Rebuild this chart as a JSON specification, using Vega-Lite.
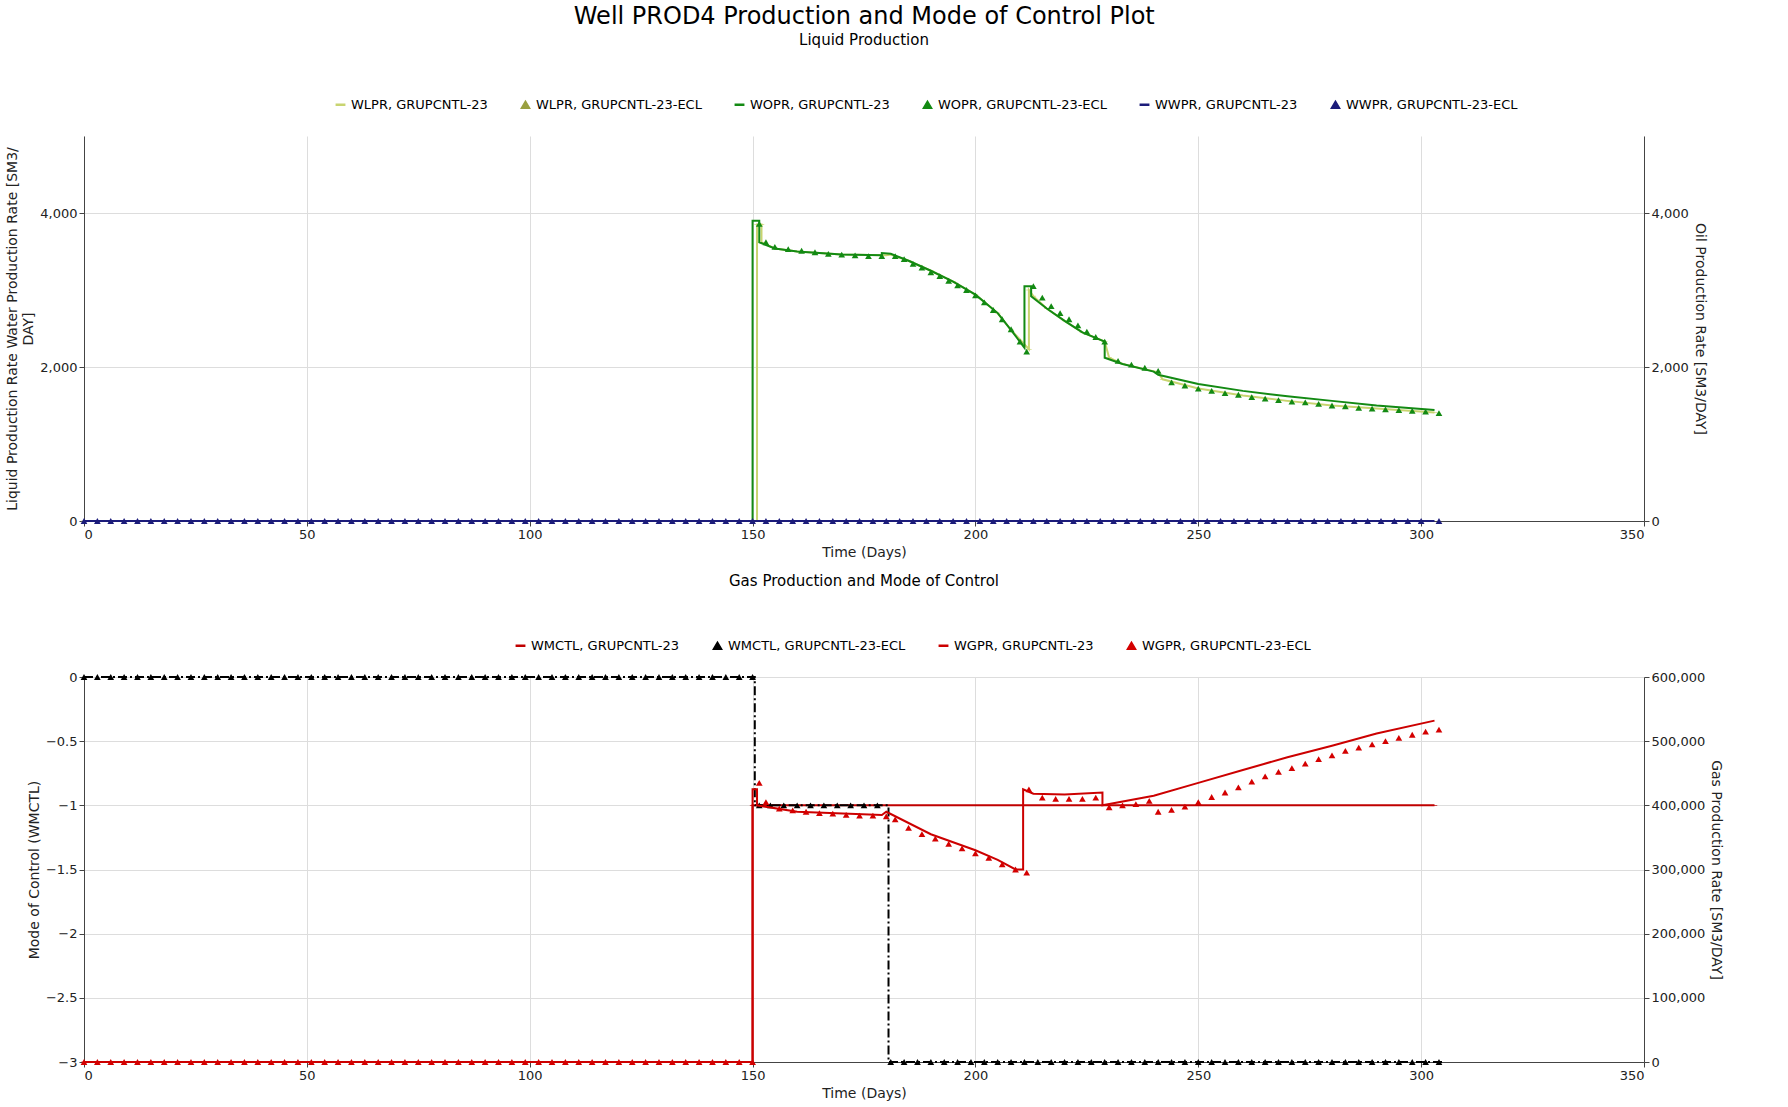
{
"$schema":"https://vega.github.io/schema/vega-lite/v6.json",
"config":{"font":"DejaVu Sans","view":{"stroke":null},"axis":{"labelFontSize":13,"titleFontSize":14,"titleFontWeight":"normal","domainColor":"#444","tickColor":"#444","gridColor":"#dddddd","labelColor":"#222","titleColor":"#222"},"legend":{"labelFontSize":13,"title":null,"symbolSize":70,"columnPadding":30,"labelLimit":400},"title":{"fontWeight":"normal"}},
"title":{"text":"Well PROD4 Production and Mode of Control Plot","fontSize":24,"anchor":"middle"},
"datasets":{
"wopr":[{"x":0,"y":0},{"x":150,"y":0},{"x":150,"y":3900},{"x":151.5,"y":3900},{"x":151.5,"y":3620},{"x":155,"y":3540},{"x":160,"y":3500},{"x":170,"y":3460},{"x":179,"y":3450},{"x":179,"y":3480},{"x":181,"y":3470},{"x":185,"y":3380},{"x":190,"y":3250},{"x":195,"y":3110},{"x":200,"y":2940},{"x":205,"y":2700},{"x":208,"y":2480},{"x":211,"y":2250},{"x":211,"y":3050},{"x":212.5,"y":3050},{"x":212.5,"y":2920},{"x":216,"y":2760},{"x":220,"y":2600},{"x":224,"y":2450},{"x":229,"y":2330},{"x":229,"y":2120},{"x":233,"y":2040},{"x":240,"y":1940},{"x":241,"y":1900},{"x":250,"y":1780},{"x":260,"y":1690},{"x":270,"y":1620},{"x":280,"y":1560},{"x":290,"y":1500},{"x":303,"y":1440}],
"wlpr":[{"x":0,"y":0},{"x":151,"y":0},{"x":151,"y":3850},{"x":152,"y":3850},{"x":152,"y":3620},{"x":155,"y":3540},{"x":160,"y":3500},{"x":170,"y":3460},{"x":180,"y":3450},{"x":181,"y":3460},{"x":185,"y":3380},{"x":190,"y":3250},{"x":195,"y":3110},{"x":200,"y":2940},{"x":205,"y":2700},{"x":208,"y":2480},{"x":212,"y":2230},{"x":212,"y":3000},{"x":213,"y":2920},{"x":216,"y":2760},{"x":220,"y":2600},{"x":224,"y":2450},{"x":229,"y":2330},{"x":230,"y":2120},{"x":233,"y":2040},{"x":241,"y":1930},{"x":242,"y":1840},{"x":250,"y":1720},{"x":260,"y":1630},{"x":270,"y":1560},{"x":280,"y":1500},{"x":290,"y":1460},{"x":303,"y":1410}],
"woprm":[{"x":151.5,"y":3860},{"x":153,"y":3620},{"x":155,"y":3560},{"x":158,"y":3530},{"x":161,"y":3510},{"x":164,"y":3490},{"x":167,"y":3470},{"x":170,"y":3460},{"x":173,"y":3450},{"x":176,"y":3440},{"x":179,"y":3440},{"x":182,"y":3440},{"x":184,"y":3400},{"x":186,"y":3340},{"x":188,"y":3290},{"x":190,"y":3230},{"x":192,"y":3180},{"x":194,"y":3120},{"x":196,"y":3060},{"x":198,"y":3000},{"x":200,"y":2930},{"x":202,"y":2840},{"x":204,"y":2740},{"x":206,"y":2620},{"x":208,"y":2490},{"x":210,"y":2330},{"x":211.5,"y":2200},{"x":213,"y":3050},{"x":215,"y":2900},{"x":217,"y":2790},{"x":219,"y":2700},{"x":221,"y":2620},{"x":223,"y":2540},{"x":225,"y":2460},{"x":227,"y":2390},{"x":229,"y":2330},{"x":232,"y":2080},{"x":235,"y":2030},{"x":238,"y":1990},{"x":241,"y":1950},{"x":244,"y":1800},{"x":247,"y":1760},{"x":250,"y":1720},{"x":253,"y":1690},{"x":256,"y":1660},{"x":259,"y":1640},{"x":262,"y":1610},{"x":265,"y":1590},{"x":268,"y":1570},{"x":271,"y":1550},{"x":274,"y":1540},{"x":277,"y":1520},{"x":280,"y":1500},{"x":283,"y":1490},{"x":286,"y":1470},{"x":289,"y":1460},{"x":292,"y":1450},{"x":295,"y":1440},{"x":298,"y":1430},{"x":301,"y":1420},{"x":304,"y":1400}],
"wwpr":[{"x":0,"y":0},{"x":303,"y":0}],
"wwprm":[{"x":0,"y":0},{"x":3,"y":0},{"x":6,"y":0},{"x":9,"y":0},{"x":12,"y":0},{"x":15,"y":0},{"x":18,"y":0},{"x":21,"y":0},{"x":24,"y":0},{"x":27,"y":0},{"x":30,"y":0},{"x":33,"y":0},{"x":36,"y":0},{"x":39,"y":0},{"x":42,"y":0},{"x":45,"y":0},{"x":48,"y":0},{"x":51,"y":0},{"x":54,"y":0},{"x":57,"y":0},{"x":60,"y":0},{"x":63,"y":0},{"x":66,"y":0},{"x":69,"y":0},{"x":72,"y":0},{"x":75,"y":0},{"x":78,"y":0},{"x":81,"y":0},{"x":84,"y":0},{"x":87,"y":0},{"x":90,"y":0},{"x":93,"y":0},{"x":96,"y":0},{"x":99,"y":0},{"x":102,"y":0},{"x":105,"y":0},{"x":108,"y":0},{"x":111,"y":0},{"x":114,"y":0},{"x":117,"y":0},{"x":120,"y":0},{"x":123,"y":0},{"x":126,"y":0},{"x":129,"y":0},{"x":132,"y":0},{"x":135,"y":0},{"x":138,"y":0},{"x":141,"y":0},{"x":144,"y":0},{"x":147,"y":0},{"x":150,"y":0},{"x":153,"y":0},{"x":156,"y":0},{"x":159,"y":0},{"x":162,"y":0},{"x":165,"y":0},{"x":168,"y":0},{"x":171,"y":0},{"x":174,"y":0},{"x":177,"y":0},{"x":180,"y":0},{"x":183,"y":0},{"x":186,"y":0},{"x":189,"y":0},{"x":192,"y":0},{"x":195,"y":0},{"x":198,"y":0},{"x":201,"y":0},{"x":204,"y":0},{"x":207,"y":0},{"x":210,"y":0},{"x":213,"y":0},{"x":216,"y":0},{"x":219,"y":0},{"x":222,"y":0},{"x":225,"y":0},{"x":228,"y":0},{"x":231,"y":0},{"x":234,"y":0},{"x":237,"y":0},{"x":240,"y":0},{"x":243,"y":0},{"x":246,"y":0},{"x":249,"y":0},{"x":252,"y":0},{"x":255,"y":0},{"x":258,"y":0},{"x":261,"y":0},{"x":264,"y":0},{"x":267,"y":0},{"x":270,"y":0},{"x":273,"y":0},{"x":276,"y":0},{"x":279,"y":0},{"x":282,"y":0},{"x":285,"y":0},{"x":288,"y":0},{"x":291,"y":0},{"x":294,"y":0},{"x":297,"y":0},{"x":300,"y":0},{"x":304,"y":0}],
"wmctl":[{"x":0,"y":-3},{"x":150,"y":-1},{"x":303,"y":-1}],
"wmctle":[{"x":0,"y":0},{"x":150.5,"y":-1},{"x":180.5,"y":-3},{"x":305,"y":-3}],
"wmctlm":[{"x":0,"y":0},{"x":3,"y":0},{"x":6,"y":0},{"x":9,"y":0},{"x":12,"y":0},{"x":15,"y":0},{"x":18,"y":0},{"x":21,"y":0},{"x":24,"y":0},{"x":27,"y":0},{"x":30,"y":0},{"x":33,"y":0},{"x":36,"y":0},{"x":39,"y":0},{"x":42,"y":0},{"x":45,"y":0},{"x":48,"y":0},{"x":51,"y":0},{"x":54,"y":0},{"x":57,"y":0},{"x":60,"y":0},{"x":63,"y":0},{"x":66,"y":0},{"x":69,"y":0},{"x":72,"y":0},{"x":75,"y":0},{"x":78,"y":0},{"x":81,"y":0},{"x":84,"y":0},{"x":87,"y":0},{"x":90,"y":0},{"x":93,"y":0},{"x":96,"y":0},{"x":99,"y":0},{"x":102,"y":0},{"x":105,"y":0},{"x":108,"y":0},{"x":111,"y":0},{"x":114,"y":0},{"x":117,"y":0},{"x":120,"y":0},{"x":123,"y":0},{"x":126,"y":0},{"x":129,"y":0},{"x":132,"y":0},{"x":135,"y":0},{"x":138,"y":0},{"x":141,"y":0},{"x":144,"y":0},{"x":147,"y":0},{"x":150,"y":0},{"x":151.5,"y":-1},{"x":154,"y":-1},{"x":157,"y":-1},{"x":160,"y":-1},{"x":163,"y":-1},{"x":166,"y":-1},{"x":169,"y":-1},{"x":172,"y":-1},{"x":175,"y":-1},{"x":178,"y":-1},{"x":181,"y":-3},{"x":184,"y":-3},{"x":187,"y":-3},{"x":190,"y":-3},{"x":193,"y":-3},{"x":196,"y":-3},{"x":199,"y":-3},{"x":202,"y":-3},{"x":205,"y":-3},{"x":208,"y":-3},{"x":211,"y":-3},{"x":214,"y":-3},{"x":217,"y":-3},{"x":220,"y":-3},{"x":223,"y":-3},{"x":226,"y":-3},{"x":229,"y":-3},{"x":232,"y":-3},{"x":235,"y":-3},{"x":238,"y":-3},{"x":241,"y":-3},{"x":244,"y":-3},{"x":247,"y":-3},{"x":250,"y":-3},{"x":253,"y":-3},{"x":256,"y":-3},{"x":259,"y":-3},{"x":262,"y":-3},{"x":265,"y":-3},{"x":268,"y":-3},{"x":271,"y":-3},{"x":274,"y":-3},{"x":277,"y":-3},{"x":280,"y":-3},{"x":283,"y":-3},{"x":286,"y":-3},{"x":289,"y":-3},{"x":292,"y":-3},{"x":295,"y":-3},{"x":298,"y":-3},{"x":301,"y":-3},{"x":304,"y":-3}],
"wgpr":[{"x":0,"y":0},{"x":150,"y":0},{"x":150,"y":425000},{"x":151,"y":425000},{"x":151,"y":400000},{"x":160,"y":390000},{"x":179,"y":385000},{"x":180,"y":390000},{"x":190,"y":355000},{"x":200,"y":330000},{"x":205,"y":315000},{"x":209,"y":300000},{"x":210.7,"y":300000},{"x":210.7,"y":425000},{"x":213,"y":418000},{"x":220,"y":417000},{"x":228.5,"y":420000},{"x":228.5,"y":400000},{"x":240,"y":415000},{"x":250,"y":435000},{"x":260,"y":455000},{"x":270,"y":475000},{"x":280,"y":493000},{"x":290,"y":512000},{"x":303,"y":532000}],
"wgprm":[{"x":0,"y":0},{"x":3,"y":0},{"x":6,"y":0},{"x":9,"y":0},{"x":12,"y":0},{"x":15,"y":0},{"x":18,"y":0},{"x":21,"y":0},{"x":24,"y":0},{"x":27,"y":0},{"x":30,"y":0},{"x":33,"y":0},{"x":36,"y":0},{"x":39,"y":0},{"x":42,"y":0},{"x":45,"y":0},{"x":48,"y":0},{"x":51,"y":0},{"x":54,"y":0},{"x":57,"y":0},{"x":60,"y":0},{"x":63,"y":0},{"x":66,"y":0},{"x":69,"y":0},{"x":72,"y":0},{"x":75,"y":0},{"x":78,"y":0},{"x":81,"y":0},{"x":84,"y":0},{"x":87,"y":0},{"x":90,"y":0},{"x":93,"y":0},{"x":96,"y":0},{"x":99,"y":0},{"x":102,"y":0},{"x":105,"y":0},{"x":108,"y":0},{"x":111,"y":0},{"x":114,"y":0},{"x":117,"y":0},{"x":120,"y":0},{"x":123,"y":0},{"x":126,"y":0},{"x":129,"y":0},{"x":132,"y":0},{"x":135,"y":0},{"x":138,"y":0},{"x":141,"y":0},{"x":144,"y":0},{"x":147,"y":0},{"x":150,"y":0},{"x":151.5,"y":435000},{"x":153,"y":405000},{"x":156,"y":395000},{"x":159,"y":392000},{"x":162,"y":390000},{"x":165,"y":388000},{"x":168,"y":387000},{"x":171,"y":385000},{"x":174,"y":384000},{"x":177,"y":384000},{"x":180,"y":383000},{"x":182,"y":378000},{"x":185,"y":365000},{"x":188,"y":355000},{"x":191,"y":348000},{"x":194,"y":340000},{"x":197,"y":333000},{"x":200,"y":325000},{"x":203,"y":318000},{"x":206,"y":308000},{"x":209,"y":300000},{"x":211.5,"y":295000},{"x":212,"y":425000},{"x":215,"y":412000},{"x":218,"y":410000},{"x":221,"y":410000},{"x":224,"y":410000},{"x":227,"y":412000},{"x":230,"y":397000},{"x":233,"y":400000},{"x":236,"y":402000},{"x":239,"y":407000},{"x":241,"y":390000},{"x":244,"y":393000},{"x":247,"y":398000},{"x":250,"y":405000},{"x":253,"y":413000},{"x":256,"y":420000},{"x":259,"y":428000},{"x":262,"y":437000},{"x":265,"y":445000},{"x":268,"y":452000},{"x":271,"y":458000},{"x":274,"y":465000},{"x":277,"y":472000},{"x":280,"y":478000},{"x":283,"y":485000},{"x":286,"y":490000},{"x":289,"y":495000},{"x":292,"y":500000},{"x":295,"y":505000},{"x":298,"y":510000},{"x":301,"y":515000},{"x":304,"y":518000}]
},
"resolve":{"scale":{"color":"independent","shape":"independent"},"legend":{"color":"independent","shape":"independent"}},
"spacing":15,
"vconcat":[
{"title":{"text":"Liquid Production","fontSize":15,"offset":50},
"width":1560,"height":385,
"encoding":{"x":{"field":"x","type":"quantitative","scale":{"domain":[0,350],"nice":false},"axis":{"title":"Time (Days)","values":[0,50,100,150,200,250,300,350]}}},
"resolve":{"scale":{"y":"independent"}},
"layer":[
{"data":{"name":"wlpr"},"mark":{"type":"line","strokeWidth":2},
 "encoding":{"y":{"field":"y","type":"quantitative","scale":{"domain":[0,5000]},"axis":{"title":["Liquid Production Rate Water Production Rate [SM3/","DAY]"],"values":[0,2000,4000],"format":",d","orient":"left"}},
 "color":{"datum":"WLPR, GRUPCNTL-23","type":"nominal","legend":{"orient":"none","direction":"horizontal","legendX":250,"legendY":-38},"scale":{"domain":["WLPR, GRUPCNTL-23","WLPR, GRUPCNTL-23-ECL","WOPR, GRUPCNTL-23","WOPR, GRUPCNTL-23-ECL","WWPR, GRUPCNTL-23","WWPR, GRUPCNTL-23-ECL"],"range":["#c8d470","#9aa040","#138a13","#138a13","#1c1c7a","#1c1c7a"]}},
 "shape":{"datum":"WLPR, GRUPCNTL-23","type":"nominal","legend":{"orient":"none","direction":"horizontal","legendX":250,"legendY":-38},"scale":{"domain":["WLPR, GRUPCNTL-23","WLPR, GRUPCNTL-23-ECL","WOPR, GRUPCNTL-23","WOPR, GRUPCNTL-23-ECL","WWPR, GRUPCNTL-23","WWPR, GRUPCNTL-23-ECL"],"range":["M-1,-0.12H1V0.12H-1Z","triangle-up","M-1,-0.12H1V0.12H-1Z","triangle-up","M-1,-0.12H1V0.12H-1Z","triangle-up"]}}}},
{"data":{"name":"wopr"},"mark":{"type":"line","strokeWidth":2},
 "encoding":{"y":{"field":"y","type":"quantitative","scale":{"domain":[0,5000]},"axis":{"title":"Oil Production Rate [SM3/DAY]","values":[0,2000,4000],"format":",d","orient":"right","grid":false,"titleAngle":90}},
 "color":{"datum":"WOPR, GRUPCNTL-23","type":"nominal"}}},
{"data":{"name":"wwpr"},"mark":{"type":"line","strokeWidth":2},
 "encoding":{"y":{"field":"y","type":"quantitative","scale":{"domain":[0,5000]},"axis":null},
 "color":{"datum":"WWPR, GRUPCNTL-23","type":"nominal"}}},
{"data":{"name":"woprm"},"mark":{"type":"point","filled":true,"opacity":1,"size":45},
 "encoding":{"y":{"field":"y","type":"quantitative","scale":{"domain":[0,5000]},"axis":null},
 "color":{"datum":"WOPR, GRUPCNTL-23-ECL","type":"nominal"},"shape":{"datum":"WOPR, GRUPCNTL-23-ECL","type":"nominal"}}},
{"data":{"name":"wwprm"},"mark":{"type":"point","filled":true,"opacity":1,"size":45},
 "encoding":{"y":{"field":"y","type":"quantitative","scale":{"domain":[0,5000]},"axis":null},
 "color":{"datum":"WWPR, GRUPCNTL-23-ECL","type":"nominal"},"shape":{"datum":"WWPR, GRUPCNTL-23-ECL","type":"nominal"}}}
]},
{"title":{"text":"Gas Production and Mode of Control","fontSize":15,"offset":50},
"width":1560,"height":385,
"encoding":{"x":{"field":"x","type":"quantitative","scale":{"domain":[0,350],"nice":false},"axis":{"title":"Time (Days)","values":[0,50,100,150,200,250,300,350]}}},
"resolve":{"scale":{"y":"independent"}},
"layer":[
{"data":{"name":"wmctl"},"mark":{"type":"line","interpolate":"step-after","strokeWidth":2},
 "encoding":{"y":{"field":"y","type":"quantitative","scale":{"domain":[-3,0],"nice":false},"axis":{"title":"Mode of Control (WMCTL)","values":[-3,-2.5,-2,-1.5,-1,-0.5,0],"format":"~g","orient":"left"}},
 "color":{"datum":"WMCTL, GRUPCNTL-23","type":"nominal","legend":{"orient":"none","direction":"horizontal","legendX":430,"legendY":-38},"scale":{"domain":["WMCTL, GRUPCNTL-23","WMCTL, GRUPCNTL-23-ECL","WGPR, GRUPCNTL-23","WGPR, GRUPCNTL-23-ECL"],"range":["#c00000","#000000","#cc0000","#d40000"]}},
 "shape":{"datum":"WMCTL, GRUPCNTL-23","type":"nominal","legend":{"orient":"none","direction":"horizontal","legendX":430,"legendY":-38},"scale":{"domain":["WMCTL, GRUPCNTL-23","WMCTL, GRUPCNTL-23-ECL","WGPR, GRUPCNTL-23","WGPR, GRUPCNTL-23-ECL"],"range":["M-1,-0.12H1V0.12H-1Z","triangle-up","M-1,-0.12H1V0.12H-1Z","triangle-up"]}}}},
{"data":{"name":"wmctle"},"mark":{"type":"line","interpolate":"step-after","strokeWidth":2,"strokeDash":[9,3,2,3]},
 "encoding":{"y":{"field":"y","type":"quantitative","scale":{"domain":[-3,0],"nice":false},"axis":null},
 "color":{"datum":"WMCTL, GRUPCNTL-23-ECL","type":"nominal"}}},
{"data":{"name":"wmctlm"},"mark":{"type":"point","filled":true,"opacity":1,"size":45},
 "encoding":{"y":{"field":"y","type":"quantitative","scale":{"domain":[-3,0],"nice":false},"axis":null},
 "color":{"datum":"WMCTL, GRUPCNTL-23-ECL","type":"nominal"},"shape":{"datum":"WMCTL, GRUPCNTL-23-ECL","type":"nominal"}}},
{"data":{"name":"wgpr"},"mark":{"type":"line","strokeWidth":2},
 "encoding":{"y":{"field":"y","type":"quantitative","scale":{"domain":[0,600000],"nice":false},"axis":{"title":"Gas Production Rate [SM3/DAY]","values":[0,100000,200000,300000,400000,500000,600000],"format":",d","orient":"right","grid":false,"titleAngle":90}},
 "color":{"datum":"WGPR, GRUPCNTL-23","type":"nominal"}}},
{"data":{"name":"wgprm"},"mark":{"type":"point","filled":true,"opacity":1,"size":45},
 "encoding":{"y":{"field":"y","type":"quantitative","scale":{"domain":[0,600000],"nice":false},"axis":null},
 "color":{"datum":"WGPR, GRUPCNTL-23-ECL","type":"nominal"},"shape":{"datum":"WGPR, GRUPCNTL-23-ECL","type":"nominal"}}}
]}
]}
